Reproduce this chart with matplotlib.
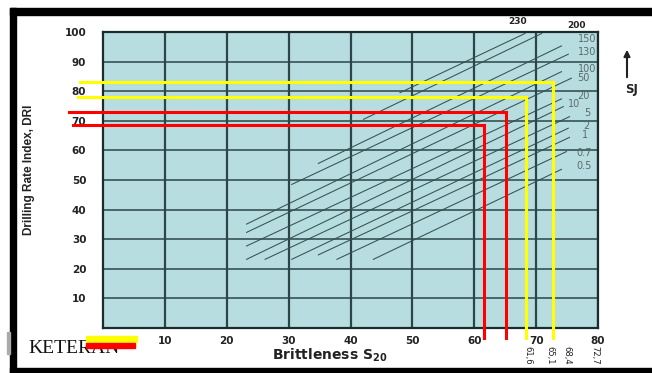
import numpy as np
import matplotlib
matplotlib.use('Agg')
from matplotlib import pyplot as plt
from matplotlib.patches import Rectangle

# SJ value lines of the DRI chart: label, start and end point (S20, DRI)
sj_labels = ['230', '200', '150', '130', '100', '50', '20', '10', '5', '2', '1', '0.7', '0.5']
sj_x0 = [48.0, 42.1, 34.8, 30.5, 23.2, 23.2, 23.2, 23.2, 26.2, 30.5, 34.8, 37.8, 43.7]
sj_y0 = [79.5, 70.5, 55.6, 48.5, 35.1, 32.3, 27.7, 23.2, 23.2, 23.2, 24.7, 23.2, 23.2]
sj_x1 = [68.2, 70.9, 74.1, 75.2, 74.1, 75.7, 74.1, 74.4, 75.4, 75.2, 75.4, 74.9, 74.1]
sj_y1 = [99.5, 99.5, 95.3, 92.5, 86.6, 84.4, 77.4, 74.8, 71.4, 67.5, 64.4, 59.6, 53.6]

# readings (S20 -> DRI)
read_s20 = [72.7, 68.4, 65.1, 61.6]
read_dri = [83.2, 78.0, 72.9, 68.6]
read_colors = ['#ffff00', '#ffff00', '#ff0000', '#ff0000']

x_ticks = [10, 20, 30, 40, 50, 60, 70, 80]
y_ticks = [10, 20, 30, 40, 50, 60, 70, 80, 90, 100]

# where the line labels sit (label positions only)
lab_x = [67.0, 76.6, 79.8, 79.8, 79.8, 78.7, 78.7, 77.1, 78.7, 78.7, 78.4, 79.0, 79.0]
lab_y = [103.5, 102.1, 97.6, 93.3, 87.5, 84.4, 78.5, 75.7, 72.7, 68.2, 65.2, 59.2, 54.8]
read_left = [-3.7, -4.0, -5.5, -4.8]

fig = plt.figure(figsize=(6.52, 3.73), dpi=100)
ax = fig.add_axes([103 / 652, 45 / 373, 495 / 652, 296 / 373])
ax.set_facecolor('#b8dde1')
ax.set_xlim(0, 80)
ax.set_ylim(0, 100)
ax.set_xticks(x_ticks)
ax.set_yticks(y_ticks)
ax.set_xticklabels([str(v) for v in x_ticks], fontsize=7.5, fontweight='bold', color='#222222')
ax.set_yticklabels([str(v) for v in y_ticks], fontsize=7.5, fontweight='bold', color='#222222')
ax.tick_params(axis='x', length=0, pad=6)
ax.tick_params(axis='y', length=0, pad=12)
ax.xaxis.grid(True, color='#2b4646', lw=1.6)
ax.yaxis.grid(True, color='#2b4646', lw=1.1)
ax.set_axisbelow(True)
for s in ax.spines.values():
    s.set_color('#1a2c2c')
    s.set_linewidth(1.6)

# SJ lines
for i in range(len(sj_labels)):
    ax.plot([sj_x0[i], sj_x1[i]], [sj_y0[i], sj_y1[i]], color='#34504f', lw=0.75, zorder=3)
    if i < 2:
        ax.text(lab_x[i], lab_y[i], sj_labels[i], fontsize=6.5, fontweight='bold',
                color='#222222', ha='center', va='center', clip_on=False)
    else:
        ax.text(lab_x[i], lab_y[i], sj_labels[i], fontsize=7, color='#5a6a6a',
                ha='right', va='center')

# reading lines
for i in range(len(read_s20)):
    ax.plot([read_left[i], read_s20[i], read_s20[i]], [read_dri[i], read_dri[i], -3.4],
            color=read_colors[i], lw=2.2, clip_on=False, zorder=5, solid_joinstyle='miter')

fig.text(29 / 652, 1 - 170 / 373, 'Drilling Rate Index, DRI', rotation=90, ha='center', va='center',
         fontsize=8.5, fontweight='bold', family=['Liberation Sans Narrow', 'Liberation Sans'],
         color='#222222')
fig.text(330 / 652, 1 - 355 / 373, 'Brittleness S$_{\\mathbf{20}}$', ha='center', va='center',
         fontsize=10, fontweight='bold', color='#222222')

# overlay in pixel coordinates for the decorations
ov = fig.add_axes([0, 0, 1, 1])
ov.set_xlim(0, 652)
ov.set_ylim(373, 0)
ov.axis('off')
ov.patch.set_alpha(0)

ov.annotate('', xy=(627, 47), xytext=(627, 80),
            arrowprops=dict(arrowstyle='-|>', lw=1.5, color='#222222', mutation_scale=9))
ov.text(632, 89, 'SJ', ha='center', va='center', fontsize=8.5, fontweight='bold', color='#222222')

frag_x = [528, 550, 567, 595]
frag_txt = ['61,6', '65,1', '68,4', '72,7']
for fx, ft in zip(frag_x, frag_txt):
    ov.text(fx, 346, ft, rotation=270, ha='center', va='top', fontsize=6, color='#222222')

ov.text(28, 353, 'KETERAN', family='Liberation Serif', fontsize=14, color='#111111', va='baseline')
ov.add_patch(Rectangle((86, 336), 51, 6, color='#ffff00', zorder=4))
ov.add_patch(Rectangle((86, 343), 49, 5, color='#ff0000', zorder=4))

# black frame
ov.add_patch(Rectangle((10, 8), 642, 7, color='black', zorder=6))
ov.add_patch(Rectangle((10, 8), 6, 365, color='black', zorder=6))
ov.add_patch(Rectangle((10, 368), 642, 5, color='black', zorder=6))
ov.add_patch(Rectangle((7, 332), 3, 22, color='#aaaaaa', zorder=6))

fig.savefig('out.png', dpi=100)
